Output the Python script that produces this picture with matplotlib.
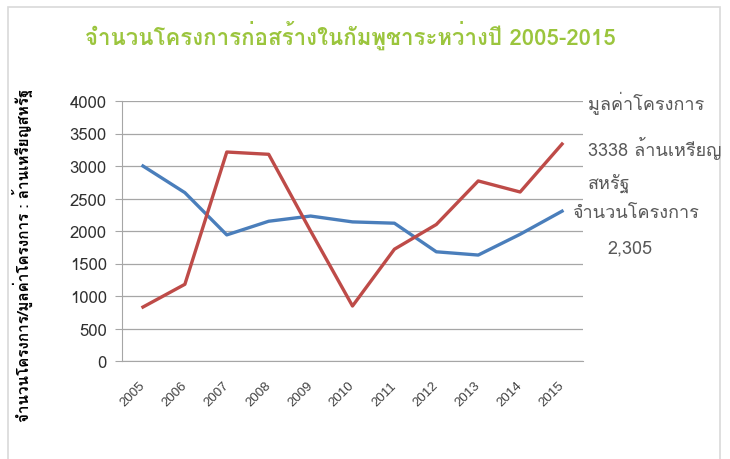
import matplotlib
matplotlib.use("Agg")
import matplotlib.pyplot as plt
from matplotlib import font_manager
from matplotlib.patches import Rectangle

years = ["2005", "2006", "2007", "2008", "2009", "2010", "2011", "2012", "2013", "2014", "2015"]
num_projects = [3000, 2590, 1940, 2150, 2230, 2140, 2120, 1680, 1630, 1950, 2305]
project_value = [830, 1180, 3215, 3180, 2000, 846, 1720, 2100, 2770, 2600, 3338]
y_ticks = [0, 500, 1000, 1500, 2000, 2500, 3000, 3500, 4000]

title = "จำนวนโครงการก่อสร้างในกัมพูชาระหว่างปี 2005-2015"
y_label = "จำนวนโครงการ/มูลค่าโครงการ : ล้านเหรียญสหรัฐ"


def find_thai_font():
    # หาฟอนต์ที่มีตัวอักษรไทย
    from fontTools.ttLib import TTFont
    names = []
    for f in font_manager.fontManager.ttflist:
        try:
            tt = TTFont(f.fname, fontNumber=0, lazy=True)
            cmap = tt.getBestCmap()
            if cmap and 0x0E01 in cmap and 0x0E32 in cmap:
                names.append(f.name)
        except Exception:
            pass
    return names


thai = find_thai_font()
families = thai[:1] + ["DejaVu Sans"]
plt.rcParams["font.family"] = families

fig = plt.figure(figsize=(7.3, 4.6), dpi=100)
fig.patches.append(Rectangle((8 / 730, -0.01), 712 / 730, 1 - 8 / 460 + 0.01,
                             transform=fig.transFigure, fill=False,
                             edgecolor="#d9d9d9", linewidth=1.2))

ax = fig.add_axes([122 / 730, 98 / 460, 461 / 730, 260 / 460])
x = list(range(len(years)))
ax.plot(x, num_projects, color="#4a7ebb", linewidth=2.4, solid_joinstyle="round")
ax.plot(x, project_value, color="#be4b48", linewidth=2.4, solid_joinstyle="round")

ax.set_xlim(-0.5, len(years) - 0.5)
ax.set_ylim(0, 4000)
ax.set_yticks(y_ticks)
ax.set_yticklabels([str(v) for v in y_ticks], fontsize=12, color="#303030")
ax.set_xticks(x)
ax.set_xticklabels(years, rotation=45, fontsize=9.5, color="#404040",
                   ha="right", va="center", rotation_mode="anchor",
                   family="Liberation Sans")
ax.tick_params(axis="x", length=0, pad=16)
ax.tick_params(axis="y", length=5, color="#a6a6a6", pad=6)
ax.grid(axis="y", color="#a6a6a6", linewidth=0.9)
ax.set_axisbelow(True)
for s in ["top", "right"]:
    ax.spines[s].set_visible(False)
ax.spines["left"].set_color("#a6a6a6")
ax.spines["bottom"].set_color("#a6a6a6")

fig.text(350 / 730, 1 - 35 / 460, title, ha="center", va="center",
         fontsize=16, fontweight="bold", color="#9bc53d")
fig.text(22 / 730, 1 - 255 / 460, y_label, rotation=90, ha="center",
         va="center", fontsize=11, fontweight="bold", color="black")

note_color = "#595959"
fig.text(588 / 730, 1 - 103 / 460, "มูลค่าโครงการ", ha="left", va="center",
         fontsize=13, color=note_color)
fig.text(588 / 730, 1 - 148 / 460, "3338 ล้านเหรียญ", ha="left", va="center",
         fontsize=13, color=note_color)
fig.text(588 / 730, 1 - 183 / 460, "สหรัฐ", ha="left", va="center",
         fontsize=13, color=note_color)
fig.text(572 / 730, 1 - 213 / 460, "จำนวนโครงการ", ha="left", va="center",
         fontsize=13, color=note_color)
fig.text(608 / 730, 1 - 248 / 460, "2,305", ha="left", va="center",
         fontsize=13, color=note_color)

fig.savefig("out.png", dpi=100, facecolor="white")
